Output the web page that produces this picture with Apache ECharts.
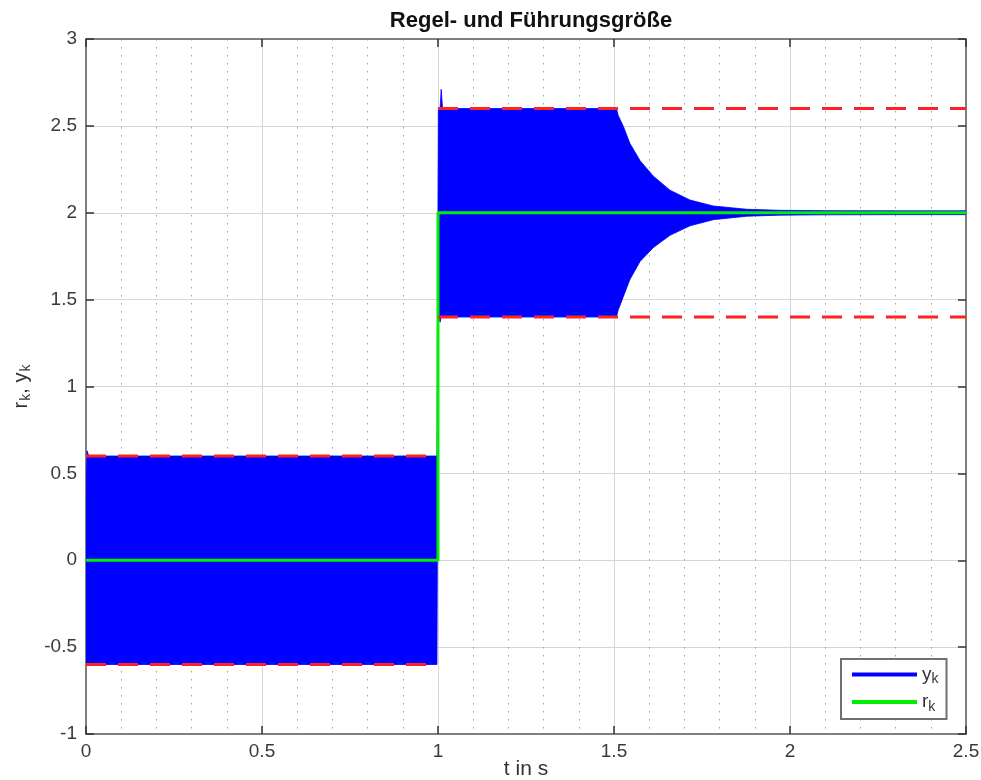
<!DOCTYPE html>
<html>
<head>
<meta charset="utf-8">
<script src="https://cdn.jsdelivr.net/npm/echarts@6/dist/echarts.min.js"></script>
<style>html,body{margin:0;padding:0;background:#fff}#c{width:981px;height:780px}</style>
</head>
<body>
<div id="c"></div>
<script>
// ---- data ----
const xTicks = [0, 0.5, 1, 1.5, 2, 2.5];
const yTicks = [-1, -0.5, 0, 0.5, 1, 1.5, 2, 2.5, 3];
// envelope of the oscillating output y_k (time in s)
const envTime  = [0,    0.003, 0.008, 0.997, 1.001, 1.006, 1.009, 1.013, 1.02, 1.507, 1.512, 1.527, 1.545, 1.574, 1.612, 1.659, 1.716, 1.782, 1.877, 1.97,  2.1,   2.3,   2.5];
const envUpper = [0.39, 0.63,  0.6,   0.6,   2.6,   2.6,   2.71,  2.6,   2.6,  2.6,   2.56,  2.495, 2.40,  2.30,  2.21,  2.13,  2.073, 2.039, 2.02,  2.014, 2.012, 2.011, 2.011];
const envLower = [-0.6, -0.6,  -0.6,  -0.6,  1.4,   1.37,  1.4,   1.4,   1.4,  1.4,   1.44,  1.52,  1.615, 1.72,  1.80,  1.87,  1.925, 1.96,  1.98,  1.986, 1.988, 1.989, 1.989];
// reference r_k
const refTime  = [0, 1, 1, 2.5];
const refValue = [0, 0, 2, 2];
// dashed tolerance bands
const bandATime = [0, 1];
const bandAUpper = [0.6, 0.6];
const bandALower = [-0.6, -0.6];
const bandBTime = [1, 2.5];
const bandBUpper = [2.6, 2.6];
const bandBLower = [1.4, 1.4];

const FONT = '"Liberation Sans", Arial, Helvetica, sans-serif';
const pairs = (xs, ys) => xs.map((x, i) => [x, ys[i]]);

const chart = echarts.init(document.getElementById('c'), null, {renderer: 'canvas'});

const dashStyle = {color: '#ff2222', width: 3, type: [20, 12]};
const subRich = {
  a: {fontSize: 20, fontFamily: FONT, color: '#333', lineHeight: 22, verticalAlign: 'middle'},
  s: {fontSize: 14, fontFamily: FONT, color: '#333', lineHeight: 24, verticalAlign: 'bottom', padding: [0, 0, 0, 1]}
};

const option = {
  animation: false,
  backgroundColor: '#ffffff',
  title: {
    text: 'Regel- und Führungsgröße',
    left: 526, top: 5, textAlign: 'center',
    textStyle: {fontFamily: FONT, fontWeight: 'bold', fontSize: 22, color: '#111'}
  },
  grid: {left: 86, right: 15, top: 39, bottom: 46, containLabel: false, outerBoundsMode: 'none'},
  legend: {
    orient: 'vertical', left: 841, top: 659,
    backgroundColor: '#fff', borderColor: '#707070', borderWidth: 2,
    padding: [6, 8, 5, 11], itemGap: 6,
    itemWidth: 65, itemHeight: 4, icon: 'rect',
    data: ['y_k', 'r_k'],
    formatter: n => '{a|' + n.charAt(0) + '}{s|' + n.charAt(2) + '}',
    textStyle: {rich: {
      a: {fontSize: 19, fontFamily: FONT, color: '#333', lineHeight: 18, verticalAlign: 'middle'},
      s: {fontSize: 14, fontFamily: FONT, color: '#333', lineHeight: 24, verticalAlign: 'bottom'}
    }}
  },
  xAxis: [{
    type: 'value', min: 0, max: 2.5, interval: 0.5,
    name: 't in s', nameLocation: 'middle', nameGap: 25, nameMoveOverlap: false,
    nameTextStyle: {fontFamily: FONT, fontSize: 21, color: '#333', verticalAlign: 'top'},
    axisLine: {show: true, onZero: false, lineStyle: {color: '#7f7f7f', width: 2}},
    axisTick: {show: true, inside: true, length: 8, lineStyle: {color: '#333', width: 1.5}},
    axisLabel: {fontFamily: FONT, fontSize: 19, color: '#3a3a3a', margin: 8,
      formatter: v => String(xTicks.find(t => Math.abs(t - v) < 1e-9) ?? v)},
    splitLine: {show: true, lineStyle: {color: '#d6d6d6', width: 1}},
    splitNumber: 5,
    minorTick: {show: false, splitNumber: 5},
    minorSplitLine: {show: true, lineStyle: {color: '#a0a0a0', width: 1, type: [1.5, 6.5]}}
  }, {
    type: 'value', position: 'top', min: 0, max: 2.5, interval: 0.5,
    axisLine: {show: true, onZero: false, lineStyle: {color: '#7f7f7f', width: 2}},
    axisTick: {show: true, inside: true, length: 8, lineStyle: {color: '#333', width: 1.5}},
    axisLabel: {show: false}, splitLine: {show: false}
  }],
  yAxis: [{
    type: 'value', min: -1, max: 3, interval: 0.5,
    name: '{a|r}{s|k}{a|, y}{s|k}', nameLocation: 'middle', nameGap: 50, nameRotate: 90,
    nameTextStyle: {rich: subRich},
    axisLine: {show: true, onZero: false, lineStyle: {color: '#7f7f7f', width: 2}},
    axisTick: {show: true, inside: true, length: 8, lineStyle: {color: '#333', width: 1.5}},
    axisLabel: {fontFamily: FONT, fontSize: 19, color: '#3a3a3a', margin: 9,
      formatter: v => String(yTicks.find(t => Math.abs(t - v) < 1e-9) ?? v)},
    splitLine: {show: true, lineStyle: {color: '#d6d6d6', width: 1}}
  }, {
    type: 'value', position: 'right', min: -1, max: 3, interval: 0.5,
    axisLine: {show: true, onZero: false, lineStyle: {color: '#7f7f7f', width: 2}},
    axisTick: {show: true, inside: true, length: 8, lineStyle: {color: '#333', width: 1.5}},
    axisLabel: {show: false}, splitLine: {show: false}
  }],
  series: [
    {
      name: 'y_k', type: 'custom', xAxisIndex: 0, yAxisIndex: 0, clip: true, z: 2,
      itemStyle: {color: '#0000ff'},
      data: [[0, 0]],
      encode: {x: 0, y: 1},
      renderItem: (params, api) => {
        const pts = [];
        for (let i = 0; i < envTime.length; i++) pts.push(api.coord([envTime[i], envUpper[i]]));
        for (let i = envTime.length - 1; i >= 0; i--) pts.push(api.coord([envTime[i], envLower[i]]));
        return {type: 'polygon', shape: {points: pts},
          style: {fill: '#0000ff', stroke: '#0000ff', lineWidth: 0.8}};
      }
    },
    {name: 'r_k', type: 'line', data: pairs(refTime, refValue), symbol: 'none', z: 3,
      itemStyle: {color: '#00ee00'}, lineStyle: {color: '#00ee00', width: 3}},
    {name: 'bandAU', type: 'line', data: pairs(bandATime, bandAUpper), symbol: 'none', z: 4, lineStyle: dashStyle, itemStyle: {color: '#ff2222'}},
    {name: 'bandAL', type: 'line', data: pairs(bandATime, bandALower), symbol: 'none', z: 4, lineStyle: dashStyle, itemStyle: {color: '#ff2222'}},
    {name: 'bandBU', type: 'line', data: pairs(bandBTime, bandBUpper), symbol: 'none', z: 4, lineStyle: dashStyle, itemStyle: {color: '#ff2222'}},
    {name: 'bandBL', type: 'line', data: pairs(bandBTime, bandBLower), symbol: 'none', z: 4, lineStyle: dashStyle, itemStyle: {color: '#ff2222'}}
  ]
};
chart.setOption(option);
</script>
</body>
</html>
